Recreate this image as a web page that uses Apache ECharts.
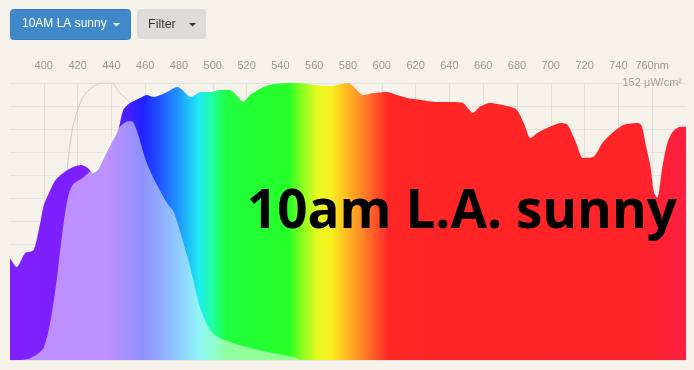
<!DOCTYPE html>
<html>
<head>
<meta charset="utf-8">
<script src="https://cdn.jsdelivr.net/npm/echarts@6/dist/echarts.min.js"></script>
<style>
html,body{margin:0;padding:0;background:#f5f1eb;}
#c{width:694px;height:370px;}
</style>
</head>
<body>
<div id="c"></div>
<script>
// ---- data ----
var wavelengthTicks = [400,420,440,460,480,500,520,540,560,580,600,620,640,660,680,700,720,740,760];
var spectrumWl = [380,384,389,394,398,400,402,407,414,422,426,429,432,438,444,447,451,457,461,465,469,473,479,482,487,493,499,504,510,515,518,522,530,536,550,560,570,580,584,589,595,603,609,615,623,633,641,648,654,658,664,676,680,684,688,692,698,706,710,715,719,725,731,737,743,752,754,756,759,761,763,764,766,769,772,776,780];
var spectrumVal = [56,51,58.7,60.4,75.7,85,89.5,98.8,104.3,107,105.4,102.6,104.3,115.3,126.2,137.2,141,143.8,145.4,144.3,145.4,147.1,149.8,148.2,144.3,147.1,147.1,148.2,148.2,144.3,141.6,145.4,149.8,151.5,152,150.9,150.4,152,149.3,145.4,146.5,147.1,145.4,143.8,142.7,141.6,141.6,141,135.6,138.9,141,138.9,137.2,130,121.8,124.6,127.3,130,129,119.1,110.9,111.4,119.6,125.1,129,130,127.9,119.1,105.9,92,89,92,105.9,119.1,125.1,127.9,128];
var overlayWl = [385,392,400,406,411,414,417,423,432,439,445,450,452,455,461,467,473,477,485,488,493,500,512,532,548,552];
var overlayVal = [0,1,7,33,70,88,96,100,108,121,128,131,131,126,108,96,86,81,56.5,45.5,27.4,14.8,9.3,4.4,1.6,0];
var hazardWl = [380,400,410,414,417,423,430,435,440,445,451,460,470,480,490,500,520,560];
var hazardVal = [5,30,75,106,127,144,150.5,152,152,146.5,141,120,85,55,30,15,5,1];
var yMax = 152;
var unitLabel = '152 µW/cm²';
var titleText = '10am L.A. sunny';
var button1Text = '10AM LA sunny';
var button2Text = 'Filter';
// spectrum colour stops (wavelength, colour)
var colorWl = [380,438,448,458,468,480,492,500,508,545,552,562,570,578,588,597,604,750,780];
var colorHex = ['#8020ff','#7820ff','#5020ff','#2020ff','#2050ff','#2098ff','#20ecf0','#20ffa0','#20ff40','#28ff28','#80ff20','#e8f820','#f8f020','#ffc020','#ff8a28','#ff5028','#ff2626','#ff2428','#ff2040'];

function pairs(a,b){var r=[];for(var i=0;i<a.length;i++)r.push([a[i],b[i]]);return r;}
var stops = colorWl.map(function(w,i){return {offset:(w-380)/400,color:colorHex[i]};});

var chart = echarts.init(document.getElementById('c'));
chart.setOption({
  backgroundColor:'#f5f1eb',
  animation:false,
  grid:{left:10,right:8,top:83,bottom:10},
  xAxis:{type:'value',min:380,max:780,interval:20,position:'top',
    axisLine:{show:false},axisTick:{show:false},
    axisLabel:{color:'#9a9896',fontSize:11,fontFamily:'Liberation Sans, Arial',margin:12,
      formatter:function(v){ if(v===380||v===780) return ''; if(v===760) return '760nm'; return String(v);} },
    splitLine:{show:true,showMinLine:false,showMaxLine:false,lineStyle:{color:'#e2ded8',width:1}}
  },
  yAxis:{type:'value',min:0,max:yMax,interval:yMax/12,
    axisLine:{show:false},axisTick:{show:false},axisLabel:{show:false},
    splitLine:{show:true,lineStyle:{color:'#e6e2dc',width:1}}
  },
  series:[
    {type:'line',data:pairs(hazardWl,hazardVal),smooth:0.3,showSymbol:false,z:1,
      lineStyle:{color:'#cfcbc6',width:1}},
    {type:'line',data:pairs(spectrumWl,spectrumVal),smooth:0.25,showSymbol:false,z:2,
      lineStyle:{width:0},
      areaStyle:{opacity:1,color:new echarts.graphic.LinearGradient(0,0,1,0,stops)}},
    {type:'line',data:pairs(overlayWl,overlayVal),smooth:0.3,showSymbol:false,z:3,
      lineStyle:{width:0},
      areaStyle:{opacity:1,color:'rgba(255,255,255,0.5)'}}
  ],
  graphic:[
    {type:'rect',left:10,top:9,z:10,shape:{width:120,height:30,r:3},style:{fill:'#3f89c9',stroke:'#3a7fbd',lineWidth:1}},
    {type:'text',left:22,top:18,z:11,style:{text:button1Text,fill:'#ffffff',font:'12px "Liberation Sans", Arial'}},
    {type:'polygon',z:11,shape:{points:[[113,23],[120,23],[116.5,26.5]]},style:{fill:'#ffffff'}},
    {type:'rect',left:137,top:9,z:10,shape:{width:69,height:30,r:3},style:{fill:'#dedcda'}},
    {type:'text',left:148,top:18,z:11,style:{text:button2Text,fill:'#333333',font:'12.5px "Liberation Sans", Arial'}},
    {type:'polygon',z:11,shape:{points:[[189,23],[196,23],[192.5,26.5]]},style:{fill:'#333333'}},
    {type:'text',right:12,top:77,z:11,style:{text:unitLabel,fill:'#a3a09c',font:'11px "Liberation Sans", Arial'}},
    {type:'text',left:247,top:186,z:20,style:{text:titleText,fill:'#000000',font:'bold 53px "Open Sans"'}}
  ]
});
</script>
</body>
</html>
